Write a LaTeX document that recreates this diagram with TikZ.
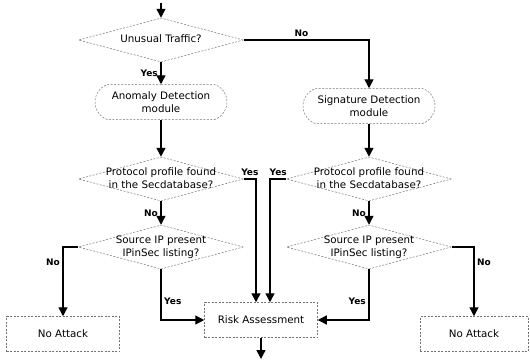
\documentclass[tikz,border=0pt]{standalone}
\usepackage{fontspec}
\setmainfont{DejaVu Sans}
\usetikzlibrary{arrows.meta,shapes.geometric,shapes.misc}
\newcommand{\dtxt}[1]{\makebox[0pt]{\begin{tabular}{@{}c@{}}#1\end{tabular}}}

\begin{document}
\begin{tikzpicture}[x=1pt,y=1pt,
  every node/.style={font=\fontsize{10.3}{13}\selectfont},
  dec/.style={diamond,draw=black!55,dash pattern=on 2pt off 1.5pt,line width=0.5pt,inner sep=0pt,minimum width=165pt,minimum height=44pt},
  modl/.style={rounded rectangle,rounded rectangle arc length=140,draw=black!55,dash pattern=on 2pt off 1.5pt,line width=0.5pt,align=center,inner sep=0pt,minimum width=132pt,minimum height=35pt},
  outb/.style={rectangle,draw=black!55,dash pattern=on 2pt off 1.5pt,line width=0.5pt,minimum width=113pt,minimum height=35pt},
  ar/.style={-{Triangle[length=9pt,width=9pt]},line width=1.4pt},
  lbl/.style={font=\fontsize{9}{10}\selectfont\bfseries,inner sep=2.5pt}]
\useasboundingbox (0,0) rectangle (530,-360);
\coordinate (start) at (161,-3);
\coordinate (finish) at (261,-359);
\node[dec] (q1) at (161,-40) {\dtxt{Unusual Traffic?}};
\node[modl] (anom) at (161,-102) {Anomaly Detection\\module};
\node[modl] (sig) at (369,-106) {Signature Detection\\module};
\node[dec] (p1) at (161,-179) {\dtxt{Protocol profile found\\in the Secdatabase?}};
\node[dec] (p2) at (369,-179) {\dtxt{Protocol profile found\\in the Secdatabase?}};
\node[dec] (s1) at (161,-247) {\dtxt{Source IP present\\IPinSec listing?}};
\node[dec] (s2) at (369,-247) {\dtxt{Source IP present\\IPinSec listing?}};
\node[outb] (na1) at (63,-334) {No Attack};
\node[outb,minimum width=108pt] (na2) at (474,-334) {No Attack};
\node[outb] (risk) at (261,-320) {Risk Assessment};
\draw[ar] (start) -- (q1.north);
\draw[ar] (q1.south) -- node[lbl,left]{Yes} (anom.north);
\draw[ar] (q1.east) -| node[lbl,pos=0.23,above]{No} (sig.north);
\draw[ar] (anom.south) -- (p1.north);
\draw[ar] (sig.south) -- (p2.north);
\draw[ar] (p1.south) -- node[lbl,left]{No} (s1.north);
\draw[ar] (p2.south) -- node[lbl,left]{No} (s2.north);
\draw[ar] (p1.east) -| node[lbl,pos=0.25,above]{Yes} ([xshift=-5pt]risk.north);
\draw[ar] (p2.west) -| node[lbl,pos=0.25,above]{Yes} ([xshift=9pt]risk.north);
\draw[ar] (s1.west) -| node[lbl,pos=0.61,left]{No} (na1.north);
\draw[ar] (s2.east) -| node[lbl,pos=0.61,right]{No} (na2.north);
\draw[ar] (s1.south) |- node[lbl,pos=0.32,right]{Yes} (risk.west);
\draw[ar] (s2.south) |- node[lbl,pos=0.32,left]{Yes} (risk.east);
\draw[ar] (risk.south) -- (finish);
\end{tikzpicture}
\end{document}
